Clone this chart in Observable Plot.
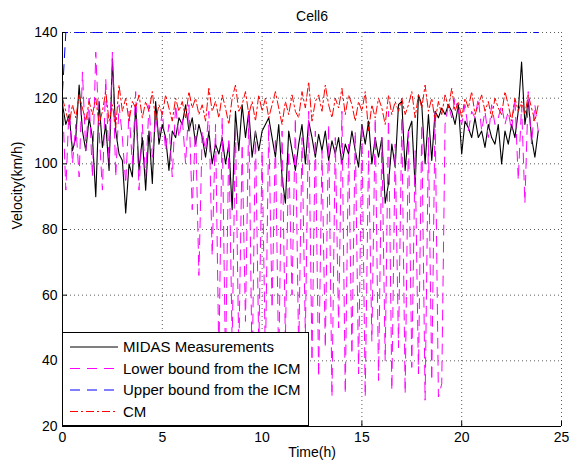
<!DOCTYPE html>
<html><head><meta charset="utf-8">
<script src="https://cdn.jsdelivr.net/npm/d3@7"></script>
<script src="https://cdn.jsdelivr.net/npm/@observablehq/plot@0.6"></script>
<style>body{margin:0;background:#fff} svg{display:block}</style>
</head><body><div id="chart"></div>
<script>
const titleText = "Cell6";
const xLabel = "Time(h)";
const yLabel = "Velocity(km/h)";
const xTicks = [0, 5, 10, 15, 20, 25];
const yTicks = [20, 40, 60, 80, 100, 120, 140];
const seriesNames = ["MIDAS Measurements", "Lower bound from the ICM", "Upper bound from the ICM", "CM"];
const seriesColors = ["#000000", "#ff00ff", "#0000ff", "#ff0000"];
const seriesDash = [null, "10,7", "10,7", "8,3,2,3"];

// 10-minute samples, hours 0 .. 23.83
const time = Array.from({length: 144}, (_, i) => i / 6);

const midas = [
  118,112,115,104,108,124, 110,104,114,108,90,119, 105,112,98,132,110,103,
  101,85,100,96,118,98, 108,92,110,94,119,106, 112,108,98,110,108,114,
  112,118,110,114,106,112, 108,102,110,100,106,103, 108,100,106,86,116,104,
  118,108,116,102,110,104, 110,112,114,108,102,112, 96,88,110,104,98,106,
  112,100,113,108,102,109, 104,110,101,107,103,108, 100,106,103,110,104,99,
  112,106,113,100,108,102, 108,88,94,106,99,118, 119,98,110,113,93,121,
  118,100,115,101,116,114, 117,115,118,116,112,118, 103,113,111,108,114,108,
  110,105,112,108,106,112, 100,110,106,112,108,116, 131,112,119,108,102,110
];
const lowerICM = [
  120,92,118,100,112,96, 128,104,120,96,134,110, 92,126,100,134,96,118,
  108,94,116,100,122,92, 112,96,118,102,114,108, 116,104,112,96,118,108,
  114,100,118,86,112,66, 110,104,116,72,112,40, 114,38,108,45,112,42,
  106,52,116,36,110,44, 104,40,112,56,108,38, 110,46,104,60,114,42,
  108,48,116,40,110,35, 104,44,112,29,108,50, 116,30,106,42,110,36,
  112,29,104,46,114,34, 108,40,116,31,106,44, 114,30,110,38,104,36,
  112,28,108,34,116,29, 33,112,118,114,120,116, 112,118,110,116,114,120,
  110,116,108,118,112,114, 118,112,116,110,120,95, 118,88,122,106,118,110
];
const upperICM = [122].concat(Array(143).fill(140));
const cm = [
  120,116,112,118,114,121, 117,113,119,115,120,112, 116,122,113,118,111,124,
  116,120,113,119,117,121, 114,119,116,122,113,118, 115,121,117,113,120,116,
  119,114,122,117,120,115, 118,113,123,116,119,114, 121,117,112,120,124,116,
  118,122,115,119,113,121, 116,120,114,118,122,117, 112,119,115,121,116,114,
  122,117,125,113,119,121, 116,124,118,114,120,117, 123,115,121,118,113,119,
  116,122,110,118,114,120, 117,112,121,115,119,116, 120,115,118,122,114,121,
  117,124,116,120,113,119, 115,121,117,123,116,119, 114,120,117,122,115,118,
  121,116,119,114,120,117, 115,122,118,113,120,116, 119,115,121,117,113,118
];

const seriesValues = [midas, lowerICM, upperICM, cm];
const rows = [];
seriesValues.forEach((vals, k) => vals.forEach((v, i) => rows.push({t: time[i], v, s: seriesNames[k]})));

const lineMarks = seriesNames.map((name, k) =>
  Plot.line(rows.filter(d => d.s === name), {
    x: "t", y: "v", stroke: seriesColors[k], strokeWidth: k === 0 ? 1.1 : 1,
    strokeDasharray: seriesDash[k] || undefined
  })
);

const chart = Plot.plot({
  width: 569, height: 466,
  marginLeft: 62, marginRight: 8, marginTop: 32, marginBottom: 40,
  style: {fontFamily: "'Liberation Sans', Arial, sans-serif", fontSize: "14px", color: "#000", background: "#fff", overflow: "visible"},
  x: {domain: [0, 25]},
  y: {domain: [20, 140]},
  marks: [
    Plot.gridX(xTicks.slice(1), {stroke: "#333", strokeOpacity: 0.8, strokeDasharray: "1,3"}),
    Plot.gridY(yTicks.slice(1), {stroke: "#333", strokeOpacity: 0.8, strokeDasharray: "1,3"}),
    Plot.axisX(xTicks, {tickSize: 0, tickPadding: 6, label: null, fontSize: 14}),
    Plot.axisX(xTicks, {tickSize: 5, text: null, label: null, dy: -5}),
    Plot.axisY(yTicks, {tickSize: 0, tickPadding: 5, label: null, fontSize: 14}),
    Plot.axisY(yTicks, {tickSize: 5, text: null, label: null, dx: 5}),
    ...lineMarks,
    Plot.ruleX([0], {stroke: "#000"}),
    Plot.ruleY([20], {stroke: "#000"}),
    Plot.text([titleText], {frameAnchor: "top", dy: -21, fontSize: 14}),
    Plot.text([xLabel], {frameAnchor: "bottom", dy: 30, fontSize: 14}),
    Plot.text([yLabel], {frameAnchor: "left", dx: -45, rotate: -90, fontSize: 14})
  ]
});

// legend
const svg = d3.select(chart);
const lg = svg.append("g").attr("font-size", 15).attr("text-anchor", "start");
lg.append("rect").attr("x", 62.5).attr("y", 332.5).attr("width", 246).attr("height", 93)
  .attr("fill", "#fff").attr("stroke", "#000");
seriesNames.forEach((name, k) => {
  const yy = 347 + k * 21.5;
  const ln = lg.append("line").attr("x1", 70).attr("x2", 118).attr("y1", yy).attr("y2", yy)
    .attr("stroke", seriesColors[k]).attr("stroke-width", 1);
  if (seriesDash[k]) ln.attr("stroke-dasharray", seriesDash[k]);
  lg.append("text").attr("x", 123).attr("y", yy).attr("dy", "0.35em").attr("fill", "#000").text(name);
});

document.getElementById("chart").appendChild(chart);
</script>
</body></html>
